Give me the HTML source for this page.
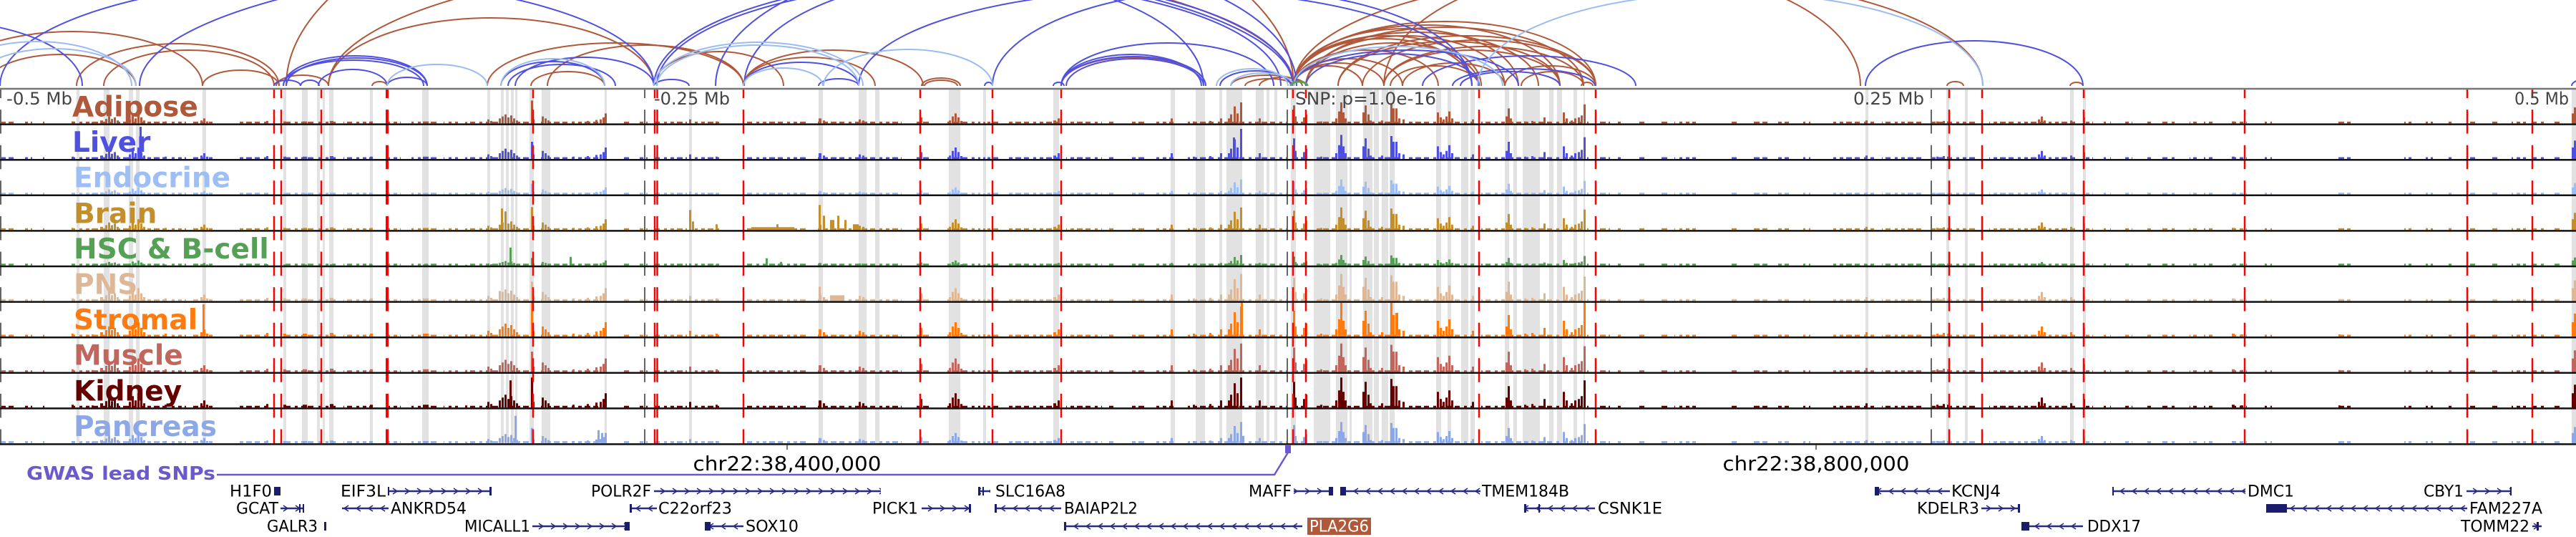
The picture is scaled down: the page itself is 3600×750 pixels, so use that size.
<!DOCTYPE html>
<html><head><meta charset="utf-8"><style>html,body{margin:0;padding:0;background:#fff}svg{display:block}text{font-family:"DejaVu Sans","Liberation Sans",sans-serif}</style></head><body>
<svg xmlns="http://www.w3.org/2000/svg" width="3600" height="750" viewBox="0 0 3600 750">
<defs>
<pattern id="ar" x="0" y="-7" width="17" height="14" patternUnits="userSpaceOnUse"><path d="M5 3L11 7L5 11" fill="none" stroke="#2b2b80" stroke-width="1.6"/></pattern>
<pattern id="al" x="0" y="-7" width="17" height="14" patternUnits="userSpaceOnUse"><path d="M11 3L5 7L11 11" fill="none" stroke="#2b2b80" stroke-width="1.6"/></pattern>
<pattern id="mp" x="0" y="-10" width="43" height="20" patternUnits="userSpaceOnUse"><rect width="43" height="20" fill="#000"/><rect x="0" y="0" width="8" height="20" fill="#fff"/><rect x="12" y="0" width="7" height="20" fill="#fff"/><rect x="25" y="0" width="4" height="20" fill="#fff"/><rect x="34" y="0" width="5" height="20" fill="#fff"/></pattern>
<mask id="nm" maskUnits="userSpaceOnUse" x="0" y="-10" width="3600" height="20"><rect x="0" y="-10" width="3600" height="20" fill="url(#mp)"/></mask>
<path id="nz" d="M0 0H25V-2.5H0Z M35 0H45V-2.5H35Z M60 0H68V-2.5H60Z M100 0H160V-2.5H100Z M165 0H230V-2.5H165Z M235 0H260V-2.5H235Z M270 0H300V-2.5H270Z M330 0H375V-2.5H330Z M395 0H440V-2.5H395Z M445 0H470V-2.5H445Z M480 0H520V-2.5H480Z M540 0H560V-2.5H540Z M575 0H610V-2.5H575Z M620 0H640V-2.5H620Z M655 0H700V-2.5H655Z M710 0H745V-2.5H710Z M755 0H845V-2.5H755Z M870 0H880V-2.5H870Z M890 0H905V-2.5H890Z M915 0H960V-2.5H915Z M965 0H1005V-2.5H965Z M1040 0H1130V-2.5H1040Z M1140 0H1260V-2.5H1140Z M1280 0H1300V-2.5H1280Z M1320 0H1370V-2.5H1320Z M1380 0H1395V-2.5H1380Z M1410 0H1480V-2.5H1410Z M1490 0H1540V-2.5H1490Z M1550 0H1560V-2.5H1550Z M1580 0H1600V-2.5H1580Z M1610 0H1640V-2.5H1610Z M1660 0H1800V-2.5H1660Z M1805 0H1830V-2.5H1805Z M1840 0H1900V-2.5H1840Z M1905 0H1960V-2.5H1905Z M1965 0H2060V-2.5H1965Z M2070 0H2220V-2.5H2070Z M2235 0H2250V-2.5H2235Z M2260 0H2270V-2.5H2260Z M2290 0H2300V-2.5H2290Z M2320 0H2330V-2.5H2320Z M2340 0H2370V-2.5H2340Z M2420 0H2430V-2.5H2420Z M2450 0H2470V-2.5H2450Z M2480 0H2500V-2.5H2480Z M2520 0H2530V-2.5H2520Z M2560 0H2620V-2.5H2560Z M2630 0H2690V-2.5H2630Z M2700 0H2760V-2.5H2700Z M2780 0H2900V-2.5H2780Z M2910 0H2925V-2.5H2910Z M2940 0H2950V-2.5H2940Z M2970 0H2980V-2.5H2970Z M3000 0H3010V-2.5H3000Z M3020 0H3040V-2.5H3020Z M3060 0H3070V-2.5H3060Z M3080 0H3095V-2.5H3080Z M3115 0H3140V-2.5H3115Z M3165 0H3175V-2.5H3165Z M3265 0H3285V-2.5H3265Z M3360 0H3370V-2.5H3360Z M3390 0H3400V-2.5H3390Z M3420 0H3430V-2.5H3420Z M3450 0H3460V-2.5H3450Z M3480 0H3490V-2.5H3480Z M3510 0H3530V-2.5H3510Z M3540 0H3560V-2.5H3540Z M3570 0H3580V-2.5H3570Z M3590 0H3600V-2.5H3590Z"/>
<path id="pk" d="M100 0h3v-4h-3z M128 0h3v-3h-3z M140 0h4v-6h-4z M147 0h3v-9h-3z M151 0h3v-14h-3z M155 0h3v-9h-3z M159 0h3v-12h-3z M163 0h3v-6h-3z M180 0h3v-8h-3z M184 0h3v-16h-3z M188 0h3v-10h-3z M192 0h3v-20h-3z M196 0h3v-12h-3z M200 0h3v-6h-3z M230 0h3v-4h-3z M280 0h3v-6h-3z M284 0h3v-10h-3z M288 0h3v-4h-3z M372 0h3v-5h-3z M396 0h4v-4h-4z M423 0h6v-4h-6z M461 0h5v-5h-5z M517 0h4v-4h-4z M591 0h8v-4h-8z M650 0h3v-3h-3z M681 0h3v-8h-3z M685 0h3v-5h-3z M697 0h3v-10h-3z M701 0h3v-14h-3z M705 0h3v-18h-3z M709 0h3v-12h-3z M713 0h3v-16h-3z M717 0h3v-10h-3z M721 0h3v-6h-3z M742 0h3v-30h-3z M745 0h2v-8h-2z M757 0h3v-14h-3z M761 0h3v-10h-3z M765 0h3v-6h-3z M800 0h3v-4h-3z M820 0h3v-5h-3z M832 0h3v-7h-3z M838 0h3v-8h-3z M842 0h3v-12h-3z M845 0h3v-20h-3z M963 0h3v-8h-3z M1000 0h3v-4h-3z M1144 0h4v-10h-4z M1150 0h3v-6h-3z M1200 0h3v-8h-3z M1205 0h3v-6h-3z M1286 0h3v-12h-3z M1326 0h3v-6h-3z M1330 0h3v-14h-3z M1334 0h3v-20h-3z M1338 0h3v-12h-3z M1342 0h3v-5h-3z M1374 0h3v-3h-3z M1472 0h4v-6h-4z M1478 0h3v-10h-3z M1636 0h3v-10h-3z M1667 0h3v-4h-3z M1690 0h3v-5h-3z M1705 0h3v-10h-3z M1716 0h3v-10h-3z M1719 0h3v-18h-3z M1724 0h3v-34h-3z M1728 0h3v-20h-3z M1733 0h3v-42h-3z M1759 0h3v-10h-3z M1807 0h3v-36h-3z M1810 0h2v-14h-2z M1821 0h3v-12h-3z M1824 0h3v-18h-3z M1845 0h3v-4h-3z M1866 0h3v-10h-3z M1870 0h3v-24h-3z M1873 0h3v-42h-3z M1876 0h3v-22h-3z M1879 0h3v-10h-3z M1904 0h3v-22h-3z M1907 0h3v-36h-3z M1911 0h3v-18h-3z M1914 0h3v-6h-3z M1930 0h3v-6h-3z M1943 0h3v-40h-3z M1946 0h3v-30h-3z M1950 0h3v-30h-3z M1954 0h3v-10h-3z M1960 0h3v-8h-3z M2008 0h3v-22h-3z M2012 0h3v-12h-3z M2016 0h3v-8h-3z M2020 0h3v-14h-3z M2024 0h3v-24h-3z M2028 0h3v-10h-3z M2057 0h3v-8h-3z M2104 0h3v-14h-3z M2107 0h3v-30h-3z M2110 0h3v-10h-3z M2130 0h3v-4h-3z M2140 0h3v-5h-3z M2157 0h3v-12h-3z M2184 0h3v-22h-3z M2188 0h3v-10h-3z M2195 0h3v-6h-3z M2200 0h3v-10h-3z M2205 0h3v-12h-3z M2209 0h3v-16h-3z M2213 0h3v-38h-3z M2607 0h3v-6h-3z M2706 0h3v-4h-3z M2715 0h3v-5h-3z M2721 0h3v-4h-3z M2848 0h3v-8h-3z M2852 0h3v-14h-3z M2856 0h3v-6h-3z M2893 0h3v-6h-3z M2911 0h3v-12h-3z M3119 0h4v-4h-4z M3131 0h4v-3h-4z M3268 0h3v-3h-3z M3594 0h3v-20h-3z M3597 0h3v-32h-3z"/>
</defs>
<rect width="3600" height="750" fill="#fff"/>

<!-- gray bands -->
<g fill="#e2e2e2">
<rect x="107" y="124" width="4" height="496"/><rect x="145" y="124" width="8" height="496"/><rect x="180" y="124" width="6" height="496"/><rect x="190" y="124" width="5" height="496"/><rect x="283" y="124" width="5" height="496"/><rect x="396" y="124" width="4" height="496"/><rect x="422" y="124" width="8" height="496"/><rect x="443" y="124" width="4" height="496"/><rect x="451" y="124" width="3" height="496"/><rect x="460" y="124" width="6" height="496"/><rect x="517" y="124" width="4" height="496"/><rect x="590" y="124" width="9" height="496"/><rect x="681" y="124" width="4" height="496"/><rect x="700" y="124" width="4" height="496"/><rect x="707" y="124" width="4" height="496"/><rect x="714" y="124" width="4" height="496"/><rect x="720" y="124" width="3" height="496"/><rect x="740" y="124" width="6" height="496"/><rect x="757" y="124" width="12" height="496"/><rect x="845" y="124" width="3" height="496"/><rect x="963" y="124" width="4" height="496"/><rect x="1144" y="124" width="6" height="496"/><rect x="1200" y="124" width="11" height="496"/><rect x="1223" y="124" width="6" height="496"/><rect x="1326" y="124" width="16" height="496"/><rect x="1374" y="124" width="4" height="496"/><rect x="1472" y="124" width="8" height="496"/><rect x="1636" y="124" width="6" height="496"/><rect x="1671" y="124" width="13" height="496"/><rect x="1704" y="124" width="4" height="496"/><rect x="1714" y="124" width="22" height="496"/><rect x="1755" y="124" width="11" height="496"/><rect x="1770" y="124" width="4" height="496"/><rect x="1781" y="124" width="4" height="496"/><rect x="1804" y="124" width="7" height="496"/><rect x="1836" y="124" width="9" height="496"/><rect x="1845" y="124" width="14" height="496"/><rect x="1867" y="124" width="16" height="496"/><rect x="1886" y="124" width="3" height="496"/><rect x="1905" y="124" width="13" height="496"/><rect x="1920" y="124" width="7" height="496"/><rect x="1931" y="124" width="9" height="496"/><rect x="1942" y="124" width="7" height="496"/><rect x="2007" y="124" width="7" height="496"/><rect x="2023" y="124" width="5" height="496"/><rect x="2042" y="124" width="10" height="496"/><rect x="2055" y="124" width="6" height="496"/><rect x="2103" y="124" width="6" height="496"/><rect x="2115" y="124" width="5" height="496"/><rect x="2128" y="124" width="24" height="496"/><rect x="2165" y="124" width="6" height="496"/><rect x="2176" y="124" width="7" height="496"/><rect x="2199" y="124" width="5" height="496"/><rect x="2213" y="124" width="2" height="496"/><rect x="2607" y="124" width="4" height="496"/><rect x="2720" y="124" width="4" height="496"/><rect x="2746" y="124" width="4" height="496"/><rect x="2893" y="124" width="5" height="496"/><rect x="2911" y="124" width="4" height="496"/><rect x="3594" y="124" width="6" height="496"/>
</g>

<!-- arcs -->
<g fill="none" stroke-width="2">
<g stroke="#b0583a">
<path d="M-81 120A182 76 0 0 1 283 120"/><path d="M-20 120A105 44 0 0 1 190 120"/><path d="M107 120A141.5 59 0 0 1 390 120"/><path d="M145 120A119 50 0 0 1 383 120"/><path d="M283 120A53.5 22 0 0 1 390 120"/><path d="M386 120A36.5 15 0 0 1 459 120"/><path d="M520 120A10.5 6 0 0 1 541 120"/><path d="M459 120A227.5 95 0 0 1 914 120"/><path d="M459 120A674.5 180 0 0 1 1808 120"/><path d="M742 120A51.5 20 0 0 1 845 120"/><path d="M765 120A137 57 0 0 1 1039 120"/><path d="M681 120A179 60 0 0 1 1039 120"/><path d="M914 120A90.5 48 0 0 1 1095 120"/><path d="M1039 120A92 40 0 0 1 1223 120"/><path d="M1039 120A125.5 50 0 0 1 1290 120"/><path d="M1288 120A27 11 0 0 1 1342 120"/><path d="M1292 120A23 8 0 0 1 1338 120"/><path d="M1483 120A101 40 0 0 1 1685 120"/><path d="M1720 120A50 15 0 0 1 1820 120"/><path d="M1740 120A34 10 0 0 1 1808 120"/><path d="M1760 120A32.5 12 0 0 1 1825 120"/><path d="M400 120A704 303 0 0 1 1808 120"/><path d="M1808 120A157 80 0 0 1 2122 120"/><path d="M1808 120A186 85 0 0 1 2180 120"/><path d="M1808 120A211 90 0 0 1 2230 120"/><path d="M1808 120A131 70 0 0 1 2070 120"/><path d="M1808 120A124.5 66 0 0 1 2057 120"/><path d="M1808 120A76 38 0 0 1 1960 120"/><path d="M1808 120A63 32 0 0 1 1934 120"/><path d="M1808 120A48 28 0 0 1 1904 120"/><path d="M1825 120A121 60 0 0 1 2067 120"/><path d="M1825 120A139 70 0 0 1 2103 120"/><path d="M1870 120A155 62 0 0 1 2180 120"/><path d="M1904 120A163 64 0 0 1 2230 120"/><path d="M1934 120A123 50 0 0 1 2180 120"/><path d="M1934 120A139.5 55 0 0 1 2213 120"/><path d="M1943 120A62 28 0 0 1 2067 120"/><path d="M1960 120A71.5 32 0 0 1 2103 120"/><path d="M2103 120A63.5 28 0 0 1 2230 120"/><path d="M2126 120A43.5 20 0 0 1 2213 120"/><path d="M2210 120A8 5 0 0 1 2226 120"/><path d="M1808 120A481.5 157 0 0 1 2771 120"/><path d="M1934 120A333 167 0 0 1 2600 120"/><path d="M2721 120A11.5 6 0 0 1 2744 120"/><path d="M2893 120A9 5 0 0 1 2911 120"/><path d="M1808 120A101 50 0 0 1 2010 120"/><path d="M1808 120A171 75 0 0 1 2150 120"/><path d="M1825 120A194 82 0 0 1 2213 120"/><path d="M1870 120A180 70 0 0 1 2230 120"/>
</g>
<g stroke="#5050e0">
<path d="M-300 120A207.5 91 0 0 1 115 120"/><path d="M195 120A806 186 0 0 1 1807 120"/><path d="M396 120A100.5 42 0 0 1 597 120"/><path d="M400 120A98.5 39 0 0 1 597 120"/><path d="M396 120A98 36 0 0 1 592 120"/><path d="M383 120A18.5 8 0 0 1 420 120"/><path d="M420 120A13 8 0 0 1 446 120"/><path d="M445 120A48 23 0 0 1 541 120"/><path d="M541 120A28 12 0 0 1 597 120"/><path d="M700 120A72.5 34 0 0 1 845 120"/><path d="M710 120A75 30 0 0 1 860 120"/><path d="M720 120A97 40 0 0 1 914 120"/><path d="M0 120A457 148 0 0 1 914 120"/><path d="M914 120A446.5 151 0 0 1 1807 120"/><path d="M918 120A436 145 0 0 1 1790 120"/><path d="M914 120A24.5 9 0 0 1 963 120"/><path d="M1039 120A80.5 33 0 0 1 1200 120"/><path d="M1144 120A28 10 0 0 1 1200 120"/><path d="M1376 120A5.5 5 0 0 1 1387 120"/><path d="M1472 120A7.5 5 0 0 1 1487 120"/><path d="M1387 120A335 135 0 0 1 2057 120"/><path d="M1040 120A321 152 0 0 1 1682 120"/><path d="M1483 120A101 41 0 0 1 1685 120"/><path d="M1490 120A96 38 0 0 1 1682 120"/><path d="M1483 120A98 44 0 0 1 1679 120"/><path d="M1483 120A148.5 60 0 0 1 1780 120"/><path d="M1705 120A49.5 21 0 0 1 1804 120"/><path d="M1000 120A406 183 0 0 1 1812 120"/><path d="M1825 120A121 45 0 0 1 2067 120"/><path d="M1808 120A157 50 0 0 1 2122 120"/><path d="M1988 120A149 42 0 0 1 2286 120"/><path d="M2030 120A99.5 24 0 0 1 2229 120"/><path d="M2041 120A69.5 20 0 0 1 2180 120"/><path d="M1200 120A428.5 134 0 0 1 2057 120"/><path d="M2607 120A152 63 0 0 1 2911 120"/><path d="M3594 120A13 8 0 0 1 3620 120"/>
</g>
<g stroke="#9bbcf2">
<path d="M-80 120A132 62 0 0 1 184 120"/><path d="M-40 120A115 52 0 0 1 190 120"/><path d="M541 120A70 30 0 0 1 681 120"/><path d="M700 120A72.5 38 0 0 1 845 120"/><path d="M914 120A146 61 0 0 1 1206 120"/><path d="M918 120A141 57 0 0 1 1200 120"/><path d="M1039 120A55.5 25 0 0 1 1150 120"/><path d="M1151 120A118 51 0 0 1 1387 120"/><path d="M1700 120A50 24 0 0 1 1800 120"/><path d="M1720 120A44 18 0 0 1 1808 120"/><path d="M1808 120A146 55 0 0 1 2100 120"/><path d="M2065 120A353 130 0 0 1 2771 120"/>
</g>
<path d="M1804 120A11.5 6 0 0 1 1827 120" stroke="#55a055" stroke-width="3"/>
</g>

<!-- tracks data -->
<g>
<use href="#nz" fill="#b0583a" mask="url(#nm)" transform="translate(0,172.4)"/><use href="#pk" fill="#b0583a" transform="translate(0,172.4) scale(1,0.7)"/>
<path fill="#b0583a" transform="translate(0,172.4)" d="M742 0h3v-32h-3z"/>
<use href="#nz" fill="#5050e0" mask="url(#nm)" transform="translate(0,222)"/><use href="#pk" fill="#5050e0" transform="translate(0,222) scale(1,0.8)"/>
<path fill="#5050e0" transform="translate(0,222)" d="M195 0h3v-45h-3z M1733 0h3v-42h-3z M1723 0h3v-30h-3z"/>
<use href="#nz" fill="#9dbff5" mask="url(#nm)" transform="translate(0,271.6)"/><use href="#pk" fill="#9dbff5" transform="translate(0,271.6) scale(1,0.5)"/>
<use href="#nz" fill="#c28f2c" mask="url(#nm)" transform="translate(0,321.2)"/><use href="#pk" fill="#c28f2c" transform="translate(0,321.2) scale(1,0.75)"/>
<path fill="#c28f2c" transform="translate(0,321.2)" d="M700 0h3v-30h-3z M705 0h3v-26h-3z M742 0h3v-32h-3z M963 0h3v-28h-3z M967 0h3v-12h-3z M1000 0h3v-8h-3z M1144 0h3v-35h-3z M1150 0h3v-20h-3z M1160 0h6v-14h-6z M1170 0h3v-20h-3z M1180 0h3v-14h-3z M1192 0h8v-8h-8z M1050 0h60v-4h-60z M1085 0h3v-8h-3z"/>
<use href="#nz" fill="#55a055" mask="url(#nm)" transform="translate(0,370.8)"/><use href="#pk" fill="#55a055" transform="translate(0,370.8) scale(1,0.35)"/>
<path fill="#55a055" transform="translate(0,370.8)" d="M712 0h3v-25h-3z M796 0h3v-12h-3z M1070 0h3v-10h-3z M1090 0h3v-5h-3z"/>
<use href="#nz" fill="#deb896" mask="url(#nm)" transform="translate(0,420.4)"/><use href="#pk" fill="#deb896" transform="translate(0,420.4) scale(1,0.9)"/>
<path fill="#deb896" transform="translate(0,420.4)" d="M697 0h3v-14h-3z M742 0h3v-20h-3z M1144 0h3v-20h-3z M1160 0h20v-8h-20z"/>
<use href="#nz" fill="#ff7b0f" mask="url(#nm)" transform="translate(0,470)"/><use href="#pk" fill="#ff7b0f" transform="translate(0,470) scale(1,1)"/>
<path fill="#ff7b0f" transform="translate(0,470)" d="M283 0h3v-45h-3z M742 0h3v-48h-3z M845 0h3v-20h-3z M1734 0h3v-47h-3z M1873 0h3v-47h-3z M1943 0h3v-47h-3z M1950 0h4v-33h-4z M2213 0h3v-47h-3z"/>
<use href="#nz" fill="#c1665c" mask="url(#nm)" transform="translate(0,519.6)"/><use href="#pk" fill="#c1665c" transform="translate(0,519.6) scale(1,0.95)"/>
<path fill="#c1665c" transform="translate(0,519.6)" d="M742 0h3v-28h-3z"/>
<use href="#nz" fill="#650000" mask="url(#nm)" transform="translate(0,569.2)"/><use href="#pk" fill="#650000" transform="translate(0,569.2) scale(1,1)"/>
<path fill="#650000" transform="translate(0,569.2)" d="M742 0h3v-42h-3z M712 0h3v-38h-3z"/>
<use href="#nz" fill="#8ca8e6" mask="url(#nm)" transform="translate(0,618.8)"/><use href="#pk" fill="#8ca8e6" transform="translate(0,618.8) scale(1,0.7)"/>
<path fill="#8ca8e6" transform="translate(0,618.8)" d="M719 0h3v-38h-3z M835 0h3v-18h-3z M840 0h3v-14h-3z M1736 0h3v-10h-3z"/>
</g>

<!-- dashed vertical lines -->
<g stroke-dasharray="33.5 16.1" stroke-dashoffset="20.5">
<g stroke="#666" stroke-width="2">
<path d="M1 124V620"/><path d="M901 124V620"/><path d="M1799 124V620"/><path d="M2699 124V620"/>
</g>
<g stroke="#ff0000" stroke-width="2.5">
<path d="M383 124V620"/><path d="M393 124V620"/><path d="M449 124V620"/><path d="M541 124V620" stroke-width="4"/><path d="M745 124V620"/><path d="M915 124V620"/><path d="M918.5 124V620"/><path d="M1039 124V620"/><path d="M1286 124V620"/><path d="M1387 124V620"/><path d="M1483 124V620"/><path d="M1807 124V620"/><path d="M1825 124V620"/><path d="M2067 124V620"/><path d="M2230 124V620"/><path d="M2724 124V620"/><path d="M2770 124V620"/><path d="M2912 124V620"/><path d="M3137 124V620"/><path d="M3448 124V620"/><path d="M3539 124V620"/>
</g>
</g>

<!-- separators -->
<g stroke="#111" stroke-width="2.5">
<path d="M0 124H3600" stroke="#777"/>
<path d="M0 173.6H3600"/><path d="M0 223.2H3600"/><path d="M0 272.8H3600"/><path d="M0 322.4H3600"/><path d="M0 372H3600"/><path d="M0 421.6H3600"/><path d="M0 471.2H3600"/><path d="M0 520.8H3600"/><path d="M0 570.4H3600"/><path d="M0 620.4H3600"/>
</g>

<!-- axis labels -->
<g font-size="24" fill="#444">
<text x="9" y="146" textLength="92" lengthAdjust="spacingAndGlyphs">-0.5 Mb</text>
<text x="914" y="146" textLength="106" lengthAdjust="spacingAndGlyphs">-0.25 Mb</text>
<text x="1810" y="146" textLength="197" lengthAdjust="spacingAndGlyphs">SNP: p=1.0e-16</text>
<text x="2590" y="146" textLength="99" lengthAdjust="spacingAndGlyphs">0.25 Mb</text>
<text x="3514" y="146" textLength="76" lengthAdjust="spacingAndGlyphs">0.5 Mb</text>
</g>

<!-- track labels -->
<g font-size="39" font-weight="bold">
<text x="101" y="162.5" fill="#b0583a">Adipose</text>
<text x="101" y="212.1" fill="#5050e0">Liver</text>
<text x="103" y="261.7" fill="#9dbff5">Endocrine</text>
<text x="103" y="311.3" fill="#c28f2c">Brain</text>
<text x="103" y="360.9" fill="#55a055">HSC &amp; B-cell</text>
<text x="103" y="410.5" fill="#deb896">PNS</text>
<text x="103" y="460.1" fill="#ff7b0f">Stromal</text>
<text x="103" y="509.7" fill="#c1665c">Muscle</text>
<text x="103" y="559.3" fill="#650000">Kidney</text>
<text x="103" y="608.9" fill="#8ca8e6">Pancreas</text>
</g>

<!-- coordinate scale -->
<path d="M1100 621V628M2538 621V628" stroke="#222" stroke-width="1.2"/>
<g font-size="28" fill="#000" text-anchor="middle">
<text x="1100" y="657" textLength="263" lengthAdjust="spacingAndGlyphs">chr22:38,400,000</text>
<text x="2538" y="657" textLength="261" lengthAdjust="spacingAndGlyphs">chr22:38,800,000</text>
</g>

<!-- GWAS -->
<text x="37" y="670" font-size="26" font-weight="bold" fill="#6a5acd" textLength="264" lengthAdjust="spacingAndGlyphs">GWAS lead SNPs</text>
<path d="M303 663H1781L1800 632" fill="none" stroke="#6a5acd" stroke-width="2.5"/>
<rect x="1796" y="622" width="8" height="11" fill="#6a5acd"/>

<!-- genes -->
<g font-size="22" fill="#000">
<g transform="translate(0,686)">
<text x="321" y="7.5" textLength="59" lengthAdjust="spacingAndGlyphs">H1F0</text>
<rect x="383" y="-6" width="9" height="12" fill="#1c1c6e"/>
<text x="476" y="7.5" textLength="63" lengthAdjust="spacingAndGlyphs">EIF3L</text>
<rect x="542" y="-7" width="145" height="14" fill="url(#ar)"/><path d="M542 0H687" stroke="#2b2b80" stroke-width="2.5"/><rect x="684" y="-6" width="3" height="12" fill="#1c1c6e"/><rect x="542" y="-6" width="2" height="12" fill="#1c1c6e"/>
<text x="826" y="7.5" textLength="84" lengthAdjust="spacingAndGlyphs">POLR2F</text>
<rect x="914" y="-7" width="317" height="14" fill="url(#ar)"/><path d="M914 0H1231" stroke="#2b2b80" stroke-width="2.5"/>
<rect x="1367" y="-7" width="17" height="14" fill="url(#al)"/><path d="M1367 0H1384" stroke="#2b2b80" stroke-width="2.5"/><rect x="1367" y="-6" width="3" height="12" fill="#1c1c6e"/><rect x="1373" y="-6" width="2" height="12" fill="#1c1c6e"/>
<text x="1391" y="7.5" textLength="98" lengthAdjust="spacingAndGlyphs">SLC16A8</text>
<text x="1745" y="7.5" textLength="60" lengthAdjust="spacingAndGlyphs">MAFF</text>
<rect x="1808" y="-7" width="42" height="14" fill="url(#ar)"/><path d="M1808 0H1863" stroke="#2b2b80" stroke-width="2.5"/><rect x="1857" y="-6" width="6" height="12" fill="#1c1c6e"/>
<rect x="1873" y="-6" width="8" height="12" fill="#1c1c6e"/>
<rect x="1889" y="-7" width="180" height="14" fill="url(#al)"/><path d="M1881 0H2069" stroke="#2b2b80" stroke-width="2.5"/>
<text x="2071" y="7.5" textLength="122" lengthAdjust="spacingAndGlyphs">TMEM184B</text>
<rect x="2620" y="-7" width="105" height="14" fill="url(#al)"/><path d="M2620 0H2725" stroke="#2b2b80" stroke-width="2.5"/><rect x="2620" y="-6" width="6" height="12" fill="#1c1c6e"/>
<text x="2727" y="7.5" textLength="69" lengthAdjust="spacingAndGlyphs">KCNJ4</text>
<rect x="2952" y="-7" width="186" height="14" fill="url(#al)"/><path d="M2952 0H3138" stroke="#2b2b80" stroke-width="2.5"/><rect x="2952" y="-6" width="2" height="12" fill="#1c1c6e"/>
<text x="3141" y="7.5" textLength="65" lengthAdjust="spacingAndGlyphs">DMC1</text>
<text x="3387" y="7.5" textLength="56" lengthAdjust="spacingAndGlyphs">CBY1</text>
<rect x="3447" y="-7" width="63" height="14" fill="url(#ar)"/><path d="M3447 0H3510" stroke="#2b2b80" stroke-width="2.5"/><rect x="3508" y="-6" width="2" height="12" fill="#1c1c6e"/>
</g>
<g transform="translate(0,710)">
<text x="330" y="7.5" textLength="59" lengthAdjust="spacingAndGlyphs">GCAT</text>
<rect x="392" y="-7" width="33" height="14" fill="url(#ar)"/><path d="M392 0H425" stroke="#2b2b80" stroke-width="2.5"/><rect x="418" y="-6" width="2" height="12" fill="#1c1c6e"/><rect x="423" y="-6" width="2" height="12" fill="#1c1c6e"/>
<rect x="478" y="-7" width="65" height="14" fill="url(#al)"/><path d="M478 0H543" stroke="#2b2b80" stroke-width="2.5"/>
<text x="546" y="7.5" textLength="106" lengthAdjust="spacingAndGlyphs">ANKRD54</text>
<rect x="880" y="-7" width="38" height="14" fill="url(#al)"/><path d="M880 0H918" stroke="#2b2b80" stroke-width="2.5"/><rect x="880" y="-6" width="3" height="12" fill="#1c1c6e"/>
<text x="920" y="7.5" textLength="103" lengthAdjust="spacingAndGlyphs">C22orf23</text>
<text x="1219" y="7.5" textLength="64" lengthAdjust="spacingAndGlyphs">PICK1</text>
<rect x="1288" y="-7" width="69" height="14" fill="url(#ar)"/><path d="M1288 0H1357" stroke="#2b2b80" stroke-width="2.5"/><rect x="1354" y="-6" width="3" height="12" fill="#1c1c6e"/>
<rect x="1390" y="-7" width="93" height="14" fill="url(#al)"/><path d="M1390 0H1483" stroke="#2b2b80" stroke-width="2.5"/><rect x="1390" y="-6" width="3" height="12" fill="#1c1c6e"/>
<text x="1487" y="7.5" textLength="103" lengthAdjust="spacingAndGlyphs">BAIAP2L2</text>
<rect x="2130" y="-7" width="99" height="14" fill="url(#al)"/><path d="M2130 0H2229" stroke="#2b2b80" stroke-width="2.5"/><rect x="2130" y="-6" width="3" height="12" fill="#1c1c6e"/><rect x="2150" y="-6" width="2" height="12" fill="#1c1c6e"/>
<text x="2233" y="7.5" textLength="90" lengthAdjust="spacingAndGlyphs">CSNK1E</text>
<text x="2679" y="7.5" textLength="87" lengthAdjust="spacingAndGlyphs">KDELR3</text>
<rect x="2769" y="-7" width="54" height="14" fill="url(#ar)"/><path d="M2769 0H2823" stroke="#2b2b80" stroke-width="2.5"/><rect x="2820" y="-6" width="3" height="12" fill="#1c1c6e"/>
<rect x="3167" y="-6" width="29" height="12" fill="#1c1c6e"/>
<rect x="3196" y="-7" width="252" height="14" fill="url(#al)"/><path d="M3196 0H3448" stroke="#2b2b80" stroke-width="2.5"/>
<text x="3451" y="7.5" textLength="102" lengthAdjust="spacingAndGlyphs">FAM227A</text>
</g>
<g transform="translate(0,735)">
<text x="373" y="7.5" textLength="71" lengthAdjust="spacingAndGlyphs">GALR3</text>
<rect x="453" y="-6" width="3" height="12" fill="#1c1c6e"/>
<text x="649" y="7.5" textLength="92" lengthAdjust="spacingAndGlyphs">MICALL1</text>
<rect x="744" y="-7" width="136" height="14" fill="url(#ar)"/><path d="M744 0H880" stroke="#2b2b80" stroke-width="2.5"/><rect x="873" y="-6" width="7" height="12" fill="#1c1c6e"/>
<rect x="985" y="-7" width="54" height="14" fill="url(#al)"/><path d="M985 0H1039" stroke="#2b2b80" stroke-width="2.5"/><rect x="985" y="-6" width="8" height="12" fill="#1c1c6e"/>
<text x="1042" y="7.5" textLength="74" lengthAdjust="spacingAndGlyphs">SOX10</text>
<rect x="1487" y="-7" width="333" height="14" fill="url(#al)"/><path d="M1487 0H1820" stroke="#2b2b80" stroke-width="2.5"/><rect x="1487" y="-6" width="3" height="12" fill="#1c1c6e"/>
<rect x="1827" y="-12" width="89" height="24" fill="#b0583a"/>
<text x="1830" y="7.5" fill="#fff" textLength="83" lengthAdjust="spacingAndGlyphs">PLA2G6</text>
<rect x="2825" y="-6" width="11" height="12" fill="#1c1c6e"/>
<rect x="2836" y="-7" width="75" height="14" fill="url(#al)"/><path d="M2836 0H2911" stroke="#2b2b80" stroke-width="2.5"/>
<text x="2917" y="7.5" textLength="75" lengthAdjust="spacingAndGlyphs">DDX17</text>
<text x="3439" y="7.5" textLength="96" lengthAdjust="spacingAndGlyphs">TOMM22</text>
<rect x="3539" y="-7" width="13" height="14" fill="url(#ar)"/><path d="M3539 0H3552" stroke="#2b2b80" stroke-width="2.5"/><rect x="3545" y="-6" width="3" height="12" fill="#1c1c6e"/>
</g>
</g>
</svg>
</body></html>
